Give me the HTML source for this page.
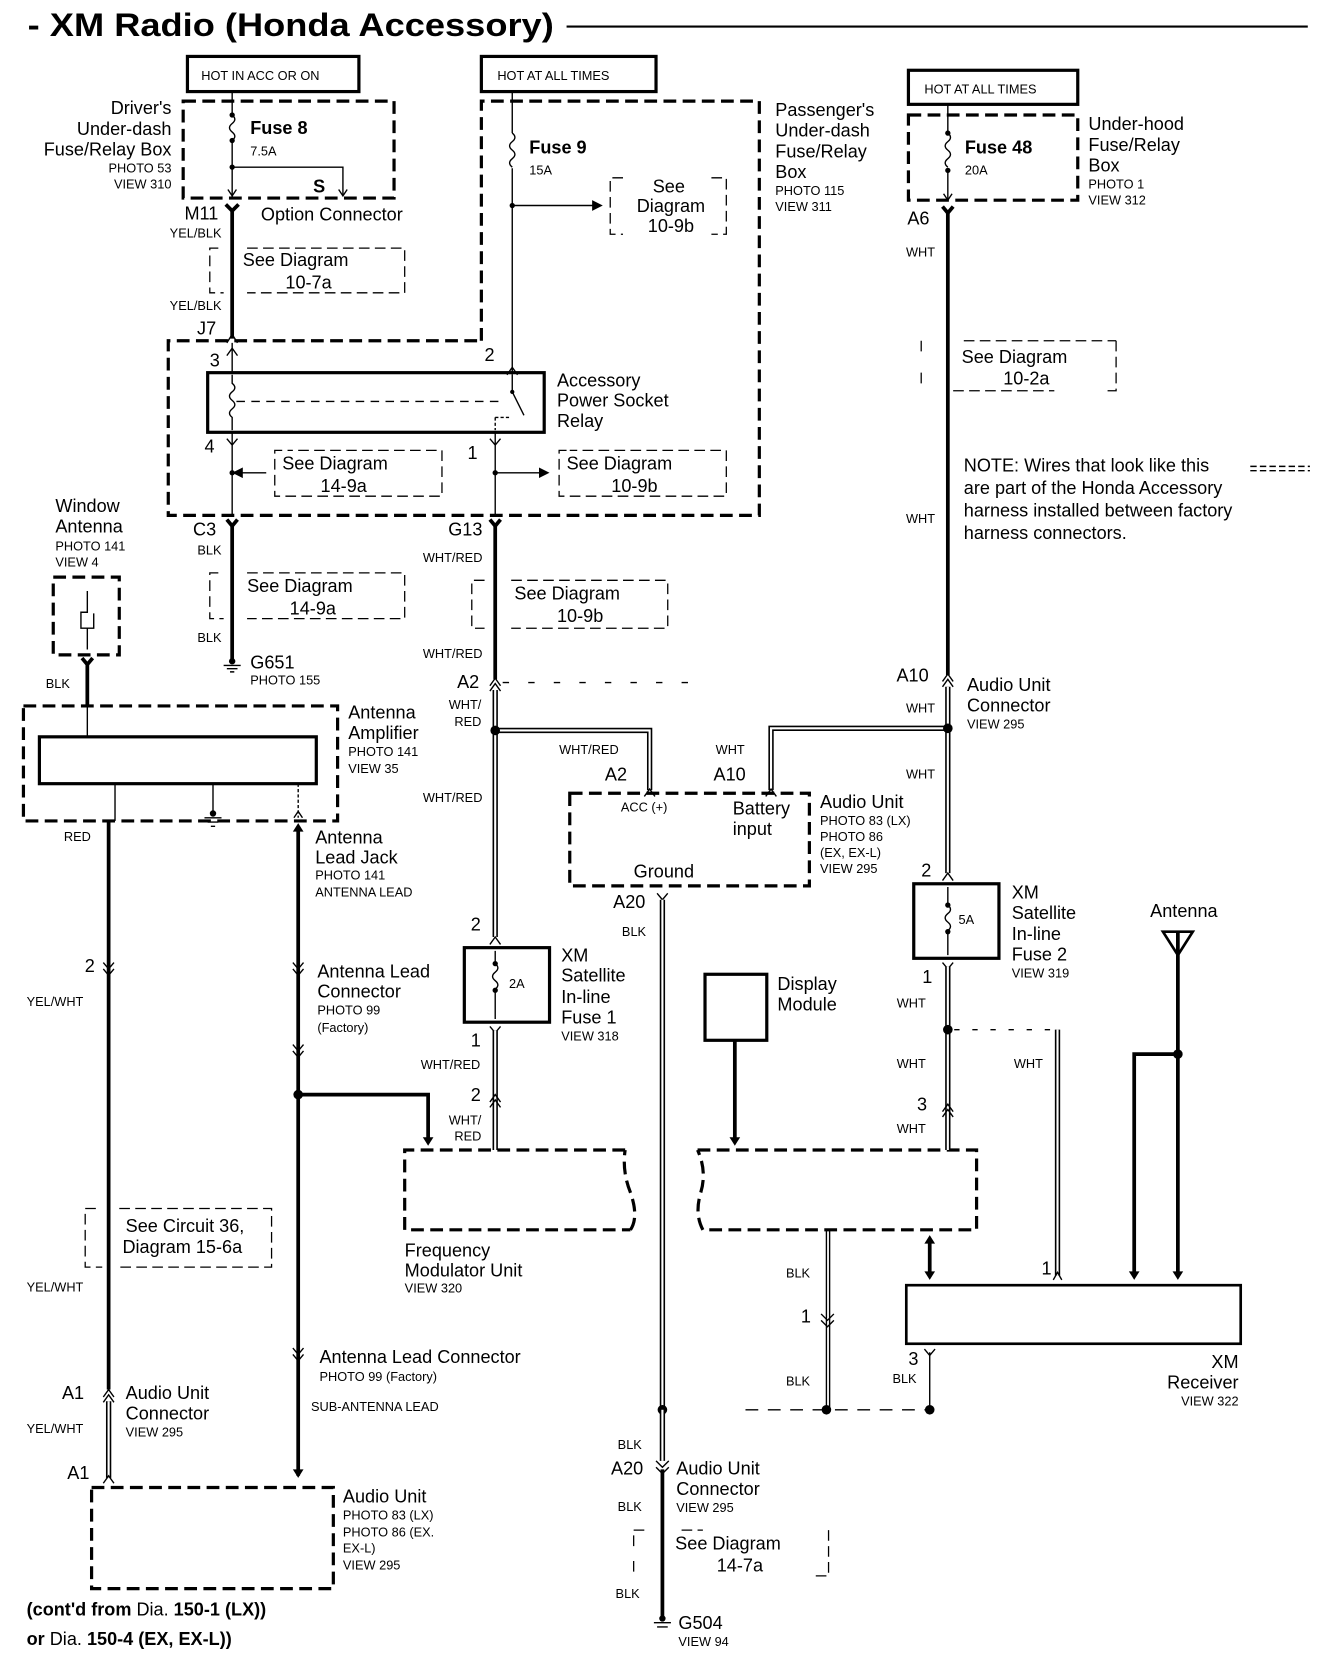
<!DOCTYPE html>
<html><head><meta charset="utf-8">
<style>
html,body{margin:0;padding:0;background:#fff;}
svg{display:block}
text{font-family:"Liberation Sans",Arial,sans-serif;fill:#000;}
.l{font-size:17px}
.s{font-size:12px}
.b{font-weight:bold}
.w{stroke:#000;stroke-width:3.5;fill:none}
.t{stroke:#000;stroke-width:1.3;fill:none}
.d{stroke:#000;stroke-width:3;fill:none;stroke-dasharray:12 6}
.dt{stroke:#000;stroke-width:1.2;fill:none;stroke-dasharray:10 5}
.o{stroke:#000;stroke-width:5;fill:none}
.i{stroke:#fff;stroke-width:2;fill:none}
.bx{stroke:#000;stroke-width:3;fill:none}
</style></head>
<body>
<svg width="1344" height="1660" viewBox="0 0 1262 1559" preserveAspectRatio="none" xmlns="http://www.w3.org/2000/svg">
<defs>
<marker id="ar" markerWidth="10" markerHeight="10" refX="8" refY="5" orient="auto" markerUnits="userSpaceOnUse"><path d="M0,0 L10,5 L0,10 z" fill="#000"/></marker>
</defs>
<!-- Title -->
<text x="26" y="34" font-size="30" class="b" textLength="494" lengthAdjust="spacingAndGlyphs">- XM Radio (Honda Accessory)</text>
<line x1="532" y1="25" x2="1228" y2="25" stroke="#000" stroke-width="2"/>

<!-- Hot boxes -->
<rect x="176" y="53" width="161" height="33" class="bx"/><text x="189" y="75" class="s" font-size="13">HOT IN ACC OR ON</text>
<rect x="452" y="53" width="164" height="33" class="bx"/><text x="467" y="75" class="s" font-size="13">HOT AT ALL TIMES</text>
<rect x="853" y="66" width="159" height="32" class="bx"/><text x="868" y="88" class="s" font-size="13">HOT AT ALL TIMES</text>

<!-- Driver's box -->
<rect x="172" y="95" width="198" height="91" class="d"/>
<path d="M218,86 V108 M218,132 V186" class="t"/>
<path d="M218,108 q5,4 0,8 q-5,4 0,8 q5,4 0,8" class="t"/>
<circle cx="218" cy="108" r="2.5"/><circle cx="218" cy="132" r="2.5"/><circle cx="218" cy="157" r="2.5"/>
<path d="M218,157 H322 V183" class="t"/>
<path d="M214,178 L218,184 L222,178 M318,178 L322,184 L326,178" class="t"/>
<text x="235" y="126" class="l b">Fuse 8</text><text x="235" y="146" class="s">7.5A</text>
<text x="294" y="181" class="l b">S</text>
<g text-anchor="end"><text x="161" y="107" class="l">Driver's</text><text x="161" y="127" class="l">Under-dash</text><text x="161" y="146" class="l">Fuse/Relay Box</text><text x="161" y="162" class="s">PHOTO 53</text><text x="161" y="177" class="s">VIEW 310</text></g>

<!-- M11 to J7 -->
<path d="M212,192 L218,198 L224,192" class="w" stroke-width="2.5"/>
<line x1="218" y1="196" x2="218" y2="318" class="w"/>
<text x="205" y="206" class="l" text-anchor="end">M11</text>
<text x="245" y="207" class="l">Option Connector</text>
<text x="208" y="223" class="s" text-anchor="end">YEL/BLK</text>
<path d="M205,233 H197 V275 H210 M232,233 H380 V275 H232" class="dt"/>
<text x="228" y="250" class="l">See Diagram</text><text x="268" y="271" class="l">10-7a</text>
<text x="208" y="291" class="s" text-anchor="end">YEL/BLK</text>
<text x="203" y="314" class="l" text-anchor="end">J7</text>
<path d="M213,322 L218,314 L223,322" class="t" stroke-width="2.5"/>

<!-- Passenger/relay dashed -->
<path d="M452,320 V95 H713 V484 H158 V320 Z" class="d"/>
<path d="M481,86 V125 M481,158 V345" class="t"/>
<path d="M481,125 q5,4 0,8 q-5,4 0,8 q5,4 0,8 q-5,4 0,8" class="t"/>
<text x="497" y="144" class="l b">Fuse 9</text><text x="497" y="164" class="s">15A</text>
<circle cx="481" cy="193" r="2.5"/>
<line x1="481" y1="193" x2="564" y2="193" class="t" stroke-width="2" marker-end="url(#ar)"/>
<path d="M585,167 H573 V220 H585 M668,167 H682 V220 H668" class="dt" stroke-width="1.8"/>
<text x="628" y="181" class="l" text-anchor="middle">See</text><text x="630" y="199" class="l" font-size="19" text-anchor="middle">Diagram</text><text x="630" y="218" class="l" text-anchor="middle">10-9b</text>
<g><text x="728" y="109" class="l">Passenger's</text><text x="728" y="128" class="l">Under-dash</text><text x="728" y="148" class="l">Fuse/Relay</text><text x="728" y="167" class="l">Box</text><text x="728" y="183" class="s">PHOTO 115</text><text x="728" y="198" class="s">VIEW 311</text></g>

<!-- Relay -->
<rect x="195" y="350" width="316" height="56" fill="none" stroke="#000" stroke-width="3"/>
<line x1="218" y1="322" x2="218" y2="350" class="t"/>
<path d="M213,334 L218,327 L223,334" class="t"/>
<line x1="481" y1="345" x2="481" y2="352" class="t"/>
<path d="M476,352 L481,345 L486,352" class="t"/>
<path d="M218,352 V360 q5,4 0,8 q-5,4 0,8 q5,4 0,8 q-5,4 0,8 V404" class="t"/>
<line x1="222" y1="377" x2="470" y2="377" class="t" stroke-dasharray="8 6"/>
<path d="M481,352 V368 L492,390" class="t"/><circle cx="481" cy="368" r="2"/>
<path d="M465,392 V404 M465,392 H480" class="t" stroke-dasharray="3 2"/>
<text x="197" y="344" class="l">3</text><text x="455" y="339" class="l">2</text>
<text x="523" y="363" class="l">Accessory</text><text x="523" y="382" class="l">Power Socket</text><text x="523" y="401" class="l">Relay</text>
<line x1="218" y1="406" x2="218" y2="484" class="t"/>
<line x1="465" y1="406" x2="465" y2="484" class="t"/>
<path d="M213,412 L218,418 L223,412 M460,412 L465,418 L470,412" class="t"/>
<text x="192" y="425" class="l">4</text><text x="439" y="431" class="l">1</text>
<circle cx="218" cy="444" r="2.5"/>
<line x1="250" y1="444" x2="220" y2="444" class="t" stroke-width="2" marker-end="url(#ar)"/>
<path d="M265,423 H258 V466 H415 V423 H270" class="dt" stroke-width="1.8"/>
<text x="265" y="441" class="l" font-size="19">See Diagram</text><text x="301" y="462" class="l">14-9a</text>
<circle cx="465" cy="444" r="2.5"/>
<line x1="465" y1="444" x2="514" y2="444" class="t" stroke-width="2" marker-end="url(#ar)"/>
<path d="M532,423 H525 V466 H682 V423 H535" class="dt" stroke-width="1.8"/>
<text x="532" y="441" class="l" font-size="19">See Diagram</text><text x="574" y="462" class="l">10-9b</text>

<!-- C3 / G13 -->
<path d="M213,488 L218,494 L223,488 M460,488 L465,494 L470,488" class="w" stroke-width="2.5"/>
<line x1="218" y1="492" x2="218" y2="620" class="w"/>
<line x1="465" y1="492" x2="465" y2="638" class="w"/>
<text x="203" y="503" class="l" text-anchor="end">C3</text><text x="208" y="521" class="s" text-anchor="end">BLK</text>
<text x="453" y="503" class="l" text-anchor="end">G13</text><text x="453" y="528" class="s" text-anchor="end">WHT/RED</text>
<path d="M205,538 H197 V581 H210 M232,538 H380 V581 H232" class="dt"/>
<text x="232" y="556" class="l" font-size="19">See Diagram</text><text x="272" y="577" class="l">14-9a</text>
<text x="208" y="603" class="s" text-anchor="end">BLK</text>
<path d="M210,625 H226 M213,628 H223 M216,631 H220" class="t" stroke-width="2"/><circle cx="218" cy="621" r="3"/>
<text x="235" y="628" class="l">G651</text><text x="235" y="643" class="s">PHOTO 155</text>
<path d="M455,545 H443 V590 H455 M480,545 H627 V590 H480" class="dt"/>
<text x="483" y="563" class="l" font-size="19">See Diagram</text><text x="523" y="584" class="l">10-9b</text>
<text x="453" y="618" class="s" text-anchor="end">WHT/RED</text>

<!-- A2 split -->
<path d="M460,644 L465,637 L470,644 M460,649 L465,642 L470,649" class="t" stroke-width="2"/>
<text x="450" y="646" class="l" text-anchor="end">A2</text>
<line x1="472" y1="641" x2="650" y2="641" class="t" stroke-dasharray="6 18" stroke-width="1"/>
<path d="M465,648 V880" class="o"/><path d="M465,648 V880" class="i"/>
<text x="452" y="666" class="s" text-anchor="end">WHT/</text><text x="452" y="682" class="s" text-anchor="end">RED</text>
<path d="M465,686 H610 V742" class="o"/><path d="M465,686 H610 V742" class="i"/>
<circle cx="465" cy="686" r="4.5"/>
<text x="525" y="708" class="s">WHT/RED</text>
<text x="568" y="733" class="l">A2</text>
<path d="M605,748 L610,741 L615,748" class="t" stroke-width="2"/>
<text x="453" y="753" class="s" text-anchor="end">WHT/RED</text>

<!-- Right WHT wire -->
<path d="M885,194 L890,200 L895,194" class="w" stroke-width="2.5"/>
<rect x="853" y="108" width="159" height="80" class="d"/>
<path d="M890,98 V125 M890,160 V188" class="t"/>
<path d="M890,125 q5,4 0,8 q-5,4 0,8 q5,4 0,8 q-5,4 0,8" class="t"/>
<circle cx="890" cy="125" r="2.5"/><circle cx="890" cy="160" r="2.5"/>
<path d="M886,182 L890,188 L894,182" class="t"/>
<text x="906" y="144" class="l b">Fuse 48</text><text x="906" y="164" class="s">20A</text>
<g><text x="1022" y="122" class="l">Under-hood</text><text x="1022" y="142" class="l">Fuse/Relay</text><text x="1022" y="161" class="l">Box</text><text x="1022" y="177" class="s">PHOTO 1</text><text x="1022" y="192" class="s">VIEW 312</text></g>
<text x="852" y="211" class="l">A6</text>
<line x1="890" y1="198" x2="890" y2="634" class="w"/>
<text x="878" y="241" class="s" text-anchor="end">WHT</text>
<path d="M865,320 V335 M865,350 V365 M895,367 H990 M1048,320 V367 H1040 M905,320 H1048" class="dt"/>
<text x="903" y="341" class="l" font-size="19">See Diagram</text><text x="942" y="361" class="l">10-2a</text>
<text x="878" y="491" class="s" text-anchor="end">WHT</text>
<text x="905" y="443" class="l" font-size="16">NOTE: Wires that look like this</text>
<path d="M1174,438 H1230 M1174,442 H1230" class="t" stroke-width="1" stroke-dasharray="6 3"/>
<text x="905" y="464" class="l" font-size="16">are part of the Honda Accessory</text>
<text x="905" y="485" class="l" font-size="16">harness installed between factory</text>
<text x="905" y="506" class="l" font-size="16">harness connectors.</text>

<!-- A10 -->
<path d="M885,640 L890,633 L895,640 M885,645 L890,638 L895,645" class="t" stroke-width="2"/>
<text x="872" y="640" class="l" text-anchor="end">A10</text>
<text x="908" y="649" class="l">Audio Unit</text><text x="908" y="668" class="l">Connector</text><text x="908" y="684" class="s">VIEW 295</text>
<text x="878" y="669" class="s" text-anchor="end">WHT</text>
<path d="M890,645 V820" class="o"/><path d="M890,645 V820" class="i"/>
<path d="M890,684 H724 V742" class="o"/><path d="M890,684 H724 V742" class="i"/>
<circle cx="890" cy="684" r="4.5"/>
<text x="672" y="708" class="s">WHT</text><text x="670" y="733" class="l">A10</text>
<path d="M719,748 L724,741 L729,748" class="t" stroke-width="2"/>
<text x="878" y="731" class="s" text-anchor="end">WHT</text>

<!-- Audio unit middle -->
<rect x="535" y="745" width="225" height="87" class="d"/>
<text x="583" y="762" class="s">ACC (+)</text>
<text x="688" y="765" class="l">Battery</text><text x="688" y="784" class="l">input</text>
<text x="595" y="824" class="l">Ground</text>
<g><text x="770" y="759" class="l">Audio Unit</text><text x="770" y="775" class="s">PHOTO 83 (LX)</text><text x="770" y="790" class="s">PHOTO 86</text><text x="770" y="805" class="s">(EX, EX-L)</text><text x="770" y="820" class="s">VIEW 295</text></g>
<text x="606" y="853" class="l" text-anchor="end">A20</text>
<path d="M617,839 L622,845 L627,839" class="t" stroke-width="2"/>
<path d="M622,845 V1322" class="o" stroke-width="4"/><path d="M622,845 V1322" class="i" stroke-width="1.5"/>
<text x="584" y="879" class="s">BLK</text>

<!-- Window antenna & amplifier -->
<g><text x="52" y="481" class="l">Window</text><text x="52" y="500" class="l">Antenna</text><text x="52" y="517" class="s">PHOTO 141</text><text x="52" y="532" class="s">VIEW 4</text></g>
<rect x="50" y="542" width="62" height="73" class="d"/>
<path d="M82,555 V575 H76 V590 H88 V576 M82,590 V610" class="t"/>
<path d="M77,618 L82,624 L87,618" class="w" stroke-width="2.5"/>
<line x1="82" y1="622" x2="82" y2="663" class="w"/>
<text x="43" y="646" class="s">BLK</text>
<rect x="22" y="663" width="295" height="108" class="d"/>
<rect x="37" y="692" width="260" height="44" fill="none" stroke="#000" stroke-width="3"/>
<line x1="82" y1="663" x2="82" y2="692" class="t" stroke-width="1"/>
<line x1="108" y1="736" x2="108" y2="771" class="t" stroke-width="1"/>
<line x1="200" y1="736" x2="200" y2="762" class="t" stroke-width="1"/>
<path d="M192,768 H208 M195,772 H205 M198,776 H202" class="t" stroke-width="2"/><circle cx="200" cy="764" r="3"/>
<line x1="280" y1="736" x2="280" y2="768" class="t" stroke-width="1" stroke-dasharray="3 2"/>
<path d="M276,768 L280,762 L284,768" class="t"/>
<g><text x="327" y="675" class="l">Antenna</text><text x="327" y="694" class="l">Amplifier</text><text x="327" y="710" class="s">PHOTO 141</text><text x="327" y="726" class="s">VIEW 35</text></g>
<text x="60" y="790" class="s">RED</text>

<!-- YEL/WHT left wire -->
<line x1="102" y1="771" x2="102" y2="1305" class="w"/>
<path d="M97,904 L102,910 L107,904 M97,910 L102,916 L107,910" class="t" stroke-width="2"/>
<text x="89" y="913" class="l" text-anchor="end">2</text>
<text x="25" y="945" class="s">YEL/WHT</text>
<path d="M90,1135 H80 V1190 H96 M112,1135 H255 V1190 H112" class="dt"/>
<text x="118" y="1157" class="l">See Circuit 36,</text><text x="115" y="1177" class="l" font-size="19">Diagram 15-6a</text>
<text x="25" y="1213" class="s">YEL/WHT</text>
<path d="M97,1312 L102,1305 L107,1312 M97,1317 L102,1310 L107,1317" class="t" stroke-width="2"/>
<text x="79" y="1314" class="l" text-anchor="end">A1</text>
<g><text x="118" y="1314" class="l">Audio Unit</text><text x="118" y="1333" class="l">Connector</text><text x="118" y="1349" class="s">VIEW 295</text></g>
<text x="25" y="1346" class="s">YEL/WHT</text>
<path d="M102,1316 V1388" class="o" stroke-width="4"/><path d="M102,1316 V1388" class="i" stroke-width="1.5"/>
<text x="84" y="1389" class="l" text-anchor="end">A1</text>
<path d="M97,1393 L102,1386 L107,1393" class="t" stroke-width="2"/>
<rect x="86" y="1397" width="227" height="95" class="d"/>
<g><text x="322" y="1411" class="l">Audio Unit</text><text x="322" y="1427" class="s">PHOTO 83 (LX)</text><text x="322" y="1443" class="s">PHOTO 86 (EX.</text><text x="322" y="1458" class="s">EX-L)</text><text x="322" y="1474" class="s">VIEW 295</text></g>
<text x="25" y="1517" class="l b" font-size="20">(cont'd from <tspan font-weight="normal">Dia.</tspan> 150-1 (LX))</text>
<text x="25" y="1545" class="l b" font-size="20">or <tspan font-weight="normal">Dia.</tspan> 150-4 (EX, EX-L))</text>

<!-- Antenna lead wire -->
<line x1="280" y1="780" x2="280" y2="1386" class="w"/>
<path d="M275,781 L280,773 L285,781 z" fill="#000"/>
<path d="M275,1380 L280,1388 L285,1380 z" fill="#000"/>
<path d="M275,904 L280,910 L285,904 M275,910 L280,916 L285,910" class="t" stroke-width="2"/>
<path d="M275,981 L280,987 L285,981 M275,987 L280,993 L285,987" class="t" stroke-width="2"/>
<path d="M275,1266 L280,1272 L285,1266 M275,1272 L280,1278 L285,1272" class="t" stroke-width="2"/>
<g><text x="296" y="792" class="l">Antenna</text><text x="296" y="811" class="l">Lead Jack</text><text x="296" y="826" class="s">PHOTO 141</text><text x="296" y="842" class="s">ANTENNA LEAD</text></g>
<g><text x="298" y="918" class="l">Antenna Lead</text><text x="298" y="937" class="l">Connector</text><text x="298" y="953" class="s">PHOTO 99</text><text x="298" y="969" class="s">(Factory)</text></g>
<circle cx="280" cy="1028" r="4.5"/>
<path d="M280,1028 H402 V1070" class="w"/>
<path d="M397,1068 L402,1076 L407,1068 z" fill="#000"/>
<text x="300" y="1280" class="l">Antenna Lead Connector</text>
<text x="300" y="1297" class="s">PHOTO 99 (Factory)</text>
<text x="292" y="1325" class="s">SUB-ANTENNA LEAD</text>

<!-- Fuse 1 -->
<path d="M460,887 L465,880 L470,887" class="t" stroke-width="2"/>
<text x="442" y="874" class="l">2</text>
<rect x="436" y="890" width="80" height="70" fill="none" stroke="#000" stroke-width="3"/>
<path d="M465,893 V905 q5,4 0,8 q-5,4 0,8 q5,4 0,8 V957" class="t"/>
<circle cx="465" cy="905" r="2.5"/><circle cx="465" cy="930" r="2.5"/>
<text x="478" y="928" class="s">2A</text>
<g><text x="527" y="903" class="l">XM</text><text x="527" y="922" class="l">Satellite</text><text x="527" y="942" class="l">In-line</text><text x="527" y="961" class="l">Fuse 1</text><text x="527" y="977" class="s">VIEW 318</text></g>
<text x="442" y="983" class="l">1</text>
<path d="M460,964 L465,970 L470,964" class="t" stroke-width="2"/>
<path d="M465,968 V1080" class="o"/><path d="M465,968 V1080" class="i"/>
<text x="451" y="1004" class="s" text-anchor="end">WHT/RED</text>
<text x="442" y="1034" class="l">2</text>
<path d="M460,1035 L465,1028 L470,1035 M460,1040 L465,1033 L470,1040" class="t" stroke-width="2"/>
<text x="452" y="1056" class="s" text-anchor="end">WHT/</text><text x="452" y="1071" class="s" text-anchor="end">RED</text>

<!-- Frequency modulator -->
<path d="M587,1080 H380 V1155 H592 M592,1155 q8,-12 0,-35 q-8,-20 -5,-40" class="d"/>
<g><text x="380" y="1180" class="l">Frequency</text><text x="380" y="1199" class="l">Modulator Unit</text><text x="380" y="1214" class="s">VIEW 320</text></g>

<!-- Display module -->
<rect x="662" y="915" width="58" height="62" fill="none" stroke="#000" stroke-width="3"/>
<text x="730" y="930" class="l">Display</text><text x="730" y="949" class="l">Module</text>
<line x1="690" y1="977" x2="690" y2="1070" class="w"/>
<path d="M685,1068 L690,1076 L695,1068 z" fill="#000"/>

<!-- Second unit -->
<path d="M655,1080 H917 V1155 H660 M660,1155 q-8,-15 -2,-35 q6,-20 -3,-40" class="d"/>
<line x1="776" y1="1155" x2="776" y2="1322" class="t"/>
<line x1="779" y1="1155" x2="779" y2="1322" class="t" stroke-width="1"/>
<path d="M771,1234 L777,1240 L783,1234 M771,1240 L777,1246 L783,1240" class="t" stroke-width="2"/>
<text x="738" y="1200" class="s">BLK</text><text x="752" y="1242" class="l">1</text><text x="738" y="1301" class="s">BLK</text>

<!-- Fuse 2 -->
<text x="865" y="823" class="l">2</text>
<path d="M885,827 L890,820 L895,827" class="t" stroke-width="2"/>
<rect x="858" y="830" width="80" height="70" fill="none" stroke="#000" stroke-width="3"/>
<path d="M890,833 V850 q5,4 0,8 q-5,4 0,8 q5,4 0,8 V897" class="t"/>
<circle cx="890" cy="850" r="2.5"/><circle cx="890" cy="875" r="2.5"/>
<text x="900" y="868" class="s">5A</text>
<g><text x="950" y="844" class="l">XM</text><text x="950" y="863" class="l">Satellite</text><text x="950" y="883" class="l">In-line</text><text x="950" y="902" class="l">Fuse 2</text><text x="950" y="918" class="s">VIEW 319</text></g>
<text x="866" y="923" class="l">1</text>
<path d="M885,904 L890,910 L895,904" class="t" stroke-width="2"/>
<path d="M890,908 V1080" class="o"/><path d="M890,908 V1080" class="i"/>
<text x="842" y="946" class="s">WHT</text>
<circle cx="890" cy="967" r="4.5"/>
<line x1="896" y1="967" x2="993" y2="967" class="t" stroke-dasharray="5 12" stroke-width="1.5"/>
<path d="M993,967 V1198" class="o" stroke-width="4"/><path d="M993,967 V1198" class="i" stroke-width="1.5"/>
<text x="842" y="1003" class="s">WHT</text><text x="952" y="1003" class="s">WHT</text>
<text x="861" y="1043" class="l">3</text>
<path d="M885,1044 L890,1037 L895,1044 M885,1049 L890,1042 L895,1049" class="t" stroke-width="2"/>
<text x="842" y="1064" class="s">WHT</text>
<text x="978" y="1197" class="l">1</text>
<path d="M989,1202 L993,1195 L997,1202" class="t"/>

<!-- Antenna & receiver -->
<text x="1080" y="861" class="l">Antenna</text>
<path d="M1092,875 H1120 L1106,897 Z" fill="none" stroke="#000" stroke-width="2.5"/>
<line x1="1106" y1="875" x2="1106" y2="1198" class="w"/>
<path d="M1101,1194 L1106,1202 L1111,1194 z" fill="#000"/>
<circle cx="1106" cy="990" r="4.5"/>
<path d="M1102,990 H1065 V1198" class="w"/>
<path d="M1060,1194 L1065,1202 L1070,1194 z" fill="#000"/>
<line x1="873" y1="1166" x2="873" y2="1196" class="w"/>
<path d="M868,1168 L873,1160 L878,1168 z M868,1194 L873,1202 L878,1194 z" fill="#000"/>
<rect x="851" y="1207" width="314" height="55" fill="none" stroke="#000" stroke-width="2.5"/>
<g text-anchor="end"><text x="1163" y="1285" class="l">XM</text><text x="1163" y="1304" class="l">Receiver</text><text x="1163" y="1320" class="s">VIEW 322</text></g>
<text x="853" y="1282" class="l">3</text>
<path d="M868,1267 L873,1273 L878,1267" class="t" stroke-width="2"/>
<line x1="873" y1="1270" x2="873" y2="1322" class="t"/>
<text x="838" y="1299" class="s">BLK</text>
<line x1="700" y1="1324" x2="870" y2="1324" class="t" stroke-dasharray="12 9"/>
<circle cx="622" cy="1324" r="4.5"/><circle cx="776" cy="1324" r="4.5"/><circle cx="873" cy="1324" r="4.5"/>

<!-- G504 -->
<path d="M622,1324 V1372" class="o" stroke-width="4"/><path d="M622,1324 V1372" class="i" stroke-width="1.5"/>
<text x="580" y="1361" class="s">BLK</text>
<path d="M616,1372 L622,1378 L628,1372 M616,1378 L622,1384 L628,1378" class="t" stroke-width="2"/>
<text x="604" y="1385" class="l" text-anchor="end">A20</text>
<line x1="622" y1="1380" x2="622" y2="1520" class="w"/>
<g><text x="635" y="1385" class="l">Audio Unit</text><text x="635" y="1404" class="l">Connector</text><text x="635" y="1420" class="s">VIEW 295</text></g>
<text x="580" y="1419" class="s">BLK</text>
<path d="M605,1437 H595 V1452 M595,1466 V1480 M640,1437 H660 M778,1437 V1480 H765" class="dt"/>
<text x="634" y="1455" class="l" font-size="19">See Diagram</text><text x="673" y="1476" class="l">14-7a</text>
<text x="578" y="1501" class="s">BLK</text>
<path d="M614,1524 H630 M617,1528 H627" class="t" stroke-width="2"/><circle cx="622" cy="1520" r="3"/>
<text x="637" y="1530" class="l">G504</text><text x="637" y="1546" class="s">VIEW 94</text>
</svg>
</body></html>
